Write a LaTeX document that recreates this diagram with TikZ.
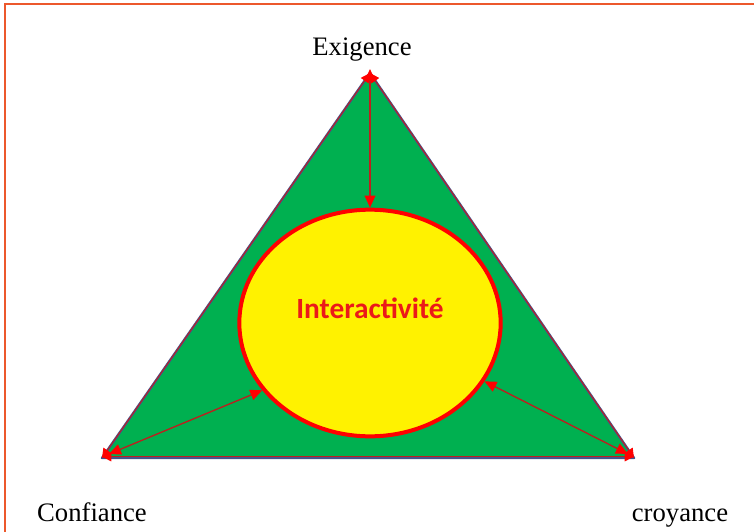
\documentclass[tikz,border=0pt]{standalone}
\usepackage{fontspec}
\setmainfont{Liberation Serif}
\newfontfamily\calibri{Carlito}
\usetikzlibrary{shapes.geometric,arrows.meta}

\definecolor{framered}{RGB}{236,88,44}
\definecolor{leafgreen}{RGB}{0,176,80}
\definecolor{edgeblue}{RGB}{68,84,140}
\definecolor{linkred}{RGB}{190,30,30}
\definecolor{textred}{RGB}{235,25,25}

\tikzset{
  frame/.style={draw=framered, line width=2.2pt},
  tri/.style={fill=leafgreen, draw=edgeblue, line width=1.8pt, line join=round},
  triedge/.style={draw=linkred, line width=0.7pt, {Triangle[red,length=7pt,width=7pt]}-{Triangle[red,length=7pt,width=7pt]}},
  bubble/.style={ellipse, draw=red, fill=yellow, line width=3pt, minimum width=196pt, minimum height=170pt, inner sep=0pt},
  link/.style={draw=linkred, line width=1pt, {Triangle[red,length=9pt,width=8pt]}-{Triangle[red,length=9pt,width=8pt]}},
  lbl/.style={font=\fontsize{20}{24}\selectfont, inner sep=0pt, anchor=base}
}

\begin{document}
\begin{tikzpicture}[x=0.75pt, y=-0.75pt]
  \useasboundingbox (0,0) rectangle (754,532);
  \draw[frame] (5,532) -- (5,4) -- (754,4); % frame, open at right and bottom

  \coordinate (top) at (370,73);
  \coordinate (left) at (102,458);
  \coordinate (right) at (634,458);
  \path[tri] (top) -- (left) -- (right) -- cycle;
  \draw[triedge] (left) -- (top);
  \draw[triedge] (right) -- (top);
  \draw[triedge] ([yshift=1pt]left) -- ([yshift=1pt]right);

  \node[bubble] (inter) at (370,323) {};
  \node[font=\calibri\bfseries\fontsize{22}{26}\selectfont, text=textred] (intertxt) at (370,308) {Interactivité};

  \draw[link] ([yshift=3pt]top) -- (inter.north);
  \draw[link] ([shift={(7,-4)}]left) -- (inter.212);
  \draw[link] ([shift={(-6,-4)}]right) -- (inter.333);

  \node[lbl] (exig) at (362,55) {Exigence};
  \node[lbl] (conf) at (92,521) {Confiance};
  \node[lbl] (croy) at (680,521) {croyance};
\end{tikzpicture}
\end{document}
